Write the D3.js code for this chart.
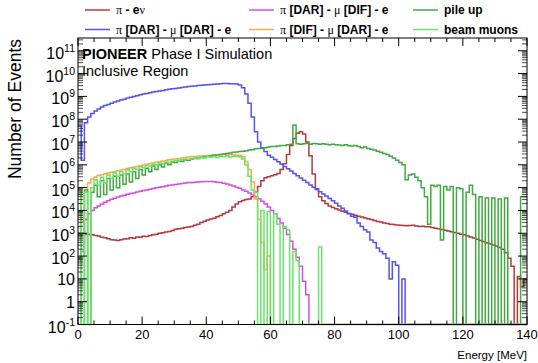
<!DOCTYPE html>
<html>
<head>
<meta charset="utf-8">
<script src="https://cdn.jsdelivr.net/npm/d3@7"></script>
<style>
  body { margin: 0; background: #fff; }
  svg { display: block; font-family: "Liberation Sans", Arial, Helvetica, sans-serif; }
</style>
</head>
<body>
<svg id="chart" width="538" height="363"></svg>
<script>
// 1 MeV bins from 0 to 140 MeV; values are log10(number of events), null = empty bin
const binEdges = d3.range(0, 141, 1);

const piEnuLog = [
  3.0, 3.0, 2.95, 2.95, 2.93, 2.9, 2.88, 2.83, 2.8, 2.76,
  2.72, 2.7, 2.68, 2.72, 2.75, 2.76, 2.8, 2.78, 2.84, 2.83,
  2.87, 2.86, 2.9, 2.93, 2.96, 3.0, 3.02, 3.05, 3.08, 3.12,
  3.18, 3.2, 3.22, 3.25, 3.27, 3.3, 3.35, 3.4, 3.47, 3.53,
  3.58, 3.62, 3.66, 3.72, 3.78, 3.85, 3.92, 4.0, 4.15, 4.28,
  4.38, 4.44, 4.48, 4.5, 4.6, 4.8, 5.05, 5.3, 5.43, 5.48,
  5.52, 5.56, 5.62, 5.8, 6.05, 6.45, 6.85, 7.15, 7.38, 7.45,
  7.35, 7.0, 6.4, 5.6, 4.95, 4.6, 4.42, 4.3, 4.2, 4.13,
  4.07, 4.02, 3.96, 3.92, 3.87, 3.83, 3.79, 3.75, 3.71, 3.67,
  3.64, 3.6, 3.56, 3.52, 3.49, 3.45, 3.43, 3.4, 3.38, 3.36,
  3.35, 3.34, 3.33, 3.34, 3.35, 3.32, 3.3, 3.31, 3.28, 3.28,
  3.25, 3.22, 3.2, 3.17, 3.13, 3.1, 3.07, 3.03, 3.0, 2.96,
  2.93, 2.88, 2.84, 2.79, 2.74, 2.68, 2.64, 2.58, 2.54, 2.48,
  2.44, 2.38, 2.3, 2.15, 1.9, 1.55, null, 1.1, 0.65, 1.0
];

const darDarLog = [
  7.7, 6.2, 7.85, 8.1, 8.25, 8.36, 8.45, 8.53, 8.6, 8.65,
  8.7, 8.75, 8.8, 8.84, 8.88, 8.93, 8.96, 9.0, 9.03, 9.07,
  9.1, 9.13, 9.16, 9.19, 9.21, 9.24, 9.26, 9.29, 9.31, 9.33,
  9.35, 9.37, 9.39, 9.41, 9.43, 9.45, 9.46, 9.48, 9.49, 9.5,
  9.51, 9.52, 9.53, 9.54, 9.55, 9.56, 9.56, 9.55, 9.55, 9.54,
  9.5, 9.38, 9.1, 8.7, 8.1, 7.45, 7.0, 6.75, 6.58, 6.42,
  6.33, 6.23, 6.13, 6.03, 5.93, 5.83, 5.73, 5.62, 5.52, 5.42,
  5.32, 5.22, 5.12, 5.02, 4.92, 4.82, 4.72, 4.62, 4.52, 4.42,
  4.32, 4.2, 4.1, 3.98, 3.86, 3.75, 3.7, 3.45, 3.3, 3.15,
  3.05, 2.7, 2.6, 2.35, 2.2, 2.1, 1.9, 1.0, 1.75, 1.6,
  null, 1.0, null, null, null, null, null, null, null, null,
  null, null, null, null, null, null, null, null, null, null,
  null, null, null, null, null, null, null, null, null, null,
  null, null, null, null, null, null, null, null, null, null
];

const darDifLog = [
  1.9, 2.2, 3.6, 3.85, 4.0, 4.12, 4.2, 4.28, 4.36, 4.43,
  4.49, 4.54, 4.59, 4.63, 4.67, 4.71, 4.74, 4.77, 4.81, 4.84,
  4.87, 4.9, 4.93, 4.96, 4.99, 5.02, 5.04, 5.07, 5.1, 5.12,
  5.14, 5.16, 5.18, 5.2, 5.22, 5.23, 5.24, 5.25, 5.26, 5.27,
  5.27, 5.27, 5.26, 5.24, 5.22, 5.19, 5.16, 5.12, 5.07, 5.02,
  4.97, 4.9, 4.84, 4.77, 4.69, 4.6, 4.5, 4.4, 4.28, 4.15,
  4.0, 3.85, 3.65, 3.45, 3.22, 2.95, 2.65, 2.3, 1.95, 1.55,
  0.9, 0.3, null, null, null, null, null, null, null, null,
  null, null, null, null, null, null, null, null, null, null,
  null, null, null, null, null, null, null, null, null, null,
  null, null, null, null, null, null, null, null, null, null,
  null, null, null, null, null, null, null, null, null, null,
  null, null, null, null, null, null, null, null, null, null,
  null, null, null, null, null, null, null, null, null, null
];

const difDarLog = [
  4.9, 3.5, 4.8, 5.2, 5.38, 5.47, 5.53, 5.57, 5.61, 5.64,
  5.67, 5.7, 5.74, 5.77, 5.8, 5.84, 5.87, 5.9, 5.93, 5.96,
  5.99, 6.02, 6.05, 6.08, 6.11, 6.14, 6.17, 6.19, 6.22, 6.24,
  6.26, 6.28, 6.3, 6.32, 6.34, 6.36, 6.37, 6.38, 6.39, 6.4,
  6.41, 6.42, 6.43, 6.44, 6.44, 6.45, 6.45, 6.45, 6.44, 6.43,
  6.42, 6.35, 6.15, 5.8, 5.25, 4.5, 3.6, 2.6, 1.4, 2.0,
  null, null, null, null, null, null, null, null, null, null,
  null, null, null, null, null, null, null, null, null, null,
  null, null, null, null, null, null, null, null, null, null,
  null, null, null, null, null, null, null, null, null, null,
  null, null, null, null, null, null, null, null, null, null,
  null, null, null, null, null, null, null, null, null, null,
  null, null, null, null, null, null, null, null, null, null,
  null, null, null, null, null, null, null, null, null, null
];

const pileUpLog = [
  4.7, null, 4.9, null, 4.8, 5.1, 4.6, 5.3, 4.7, 5.4,
  4.9, 5.5, 5.0, 5.55, 5.15, 5.6, 5.25, 5.7, 5.4, 5.8,
  5.55, 5.85, 5.7, 5.95, 5.8, 6.0, 5.9, 6.08, 6.0, 6.12,
  6.1, 6.18, 6.15, 6.22, 6.2, 6.26, 6.28, 6.3, 6.32, 6.35,
  6.37, 6.4, 6.42, 6.43, 6.45, 6.47, 6.5, 6.52, 6.55, 6.56,
  6.58, 6.6, 6.62, 6.65, 6.66, 6.7, 6.72, 6.72, 6.75, 6.78,
  6.8, 6.8, 6.82, 6.85, 6.85, 6.88, 6.9, 7.75, 6.92, 6.9,
  6.92, 6.95, 6.9, 6.93, 6.92, 6.9, 6.92, 6.9, 6.88, 6.9,
  6.88, 6.87, 6.85, 6.88, 6.84, 6.82, 6.85, 6.8, 6.75, 6.78,
  6.72, 6.68, 6.65, 6.6, 6.55, 6.5, 6.45, 6.38, 6.3, 6.2,
  6.1, 6.0, 5.35, 5.55, 5.6, 5.45, 5.3, 5.0, 4.6, 3.4,
  5.1, 5.05, 5.1, 2.7, 5.05, 4.9, 5.05, null, 5.0, 4.95,
  null, 4.8, 5.1, 4.7, null, 4.6, null, 4.55, null, 4.55,
  null, 4.5, null, 4.55, null, null, null, null, 4.6, 4.6
];

const beamMuonsLog = [
  4.9, null, 4.8, null, 5.0, 5.35, 5.1, 5.45, 5.2, 5.55,
  5.4, 5.65, 5.5, 5.7, 5.6, 5.78, 5.7, 5.85, 5.8, 5.92,
  5.88, 5.97, 5.95, 6.02, 6.0, 6.08, 6.05, 6.12, 6.1, 6.16,
  6.18, 6.2, 6.22, 6.25, 6.24, 6.28, 6.3, 6.27, 6.33, 6.3,
  6.35, 6.33, 6.37, 6.32, 6.38, 6.35, 6.4, 6.34, 6.38, 6.36,
  6.35, 6.25, 6.0, 5.5, 4.9, 4.8, null, 4.0, null, 3.95,
  null, 3.85, 3.4, null, 3.3, 3.15, null, 2.2, 1.8, null,
  null, null, null, null, null, 2.4, null, null, null, null,
  null, null, null, null, null, null, null, null, null, null,
  null, null, null, null, null, null, null, null, null, null,
  null, null, null, null, null, null, null, null, null, null,
  null, null, null, null, null, null, null, null, null, null,
  null, null, null, null, null, null, null, null, null, null,
  null, null, null, null, null, null, null, null, null, null
];

const xTicks = [0, 20, 40, 60, 80, 100, 120, 140];
const yDecades = d3.range(-1, 12);

const series = [
  { name: "pienu",  log: piEnuLog,     color: "#b23b3b" },
  { name: "darDar", log: darDarLog,    color: "#5252f5" },
  { name: "darDif", log: darDifLog,    color: "#d84ae8" },
  { name: "difDar", log: difDarLog,    color: "#fbaa45" },
  { name: "pileUp", log: pileUpLog,    color: "#42a842" },
  { name: "beamMu", log: beamMuonsLog, color: "#68e468" }
];

const plotL = 78, plotR = 527, plotT = 38, plotB = 324.5;
const yMin = 0.1, yMax = Math.pow(10, 11.56);

const svg = d3.select("#chart");
const x = d3.scaleLinear().domain([0, 140]).range([plotL, plotR]);
const y = d3.scaleLog().domain([yMin, yMax]).range([plotB, plotT]);

svg.append("defs").append("clipPath").attr("id", "frame")
  .append("rect").attr("x", plotL).attr("y", plotT - 1).attr("width", plotR - plotL).attr("height", plotB - plotT + 2);

// histograms as step lines, empty bins drop to the frame bottom
const line = d3.line()
  .x(d => x(d[0]))
  .y(d => y(Math.max(yMin, d[1])))
  .curve(d3.curveStepAfter);

const hg = svg.append("g").attr("clip-path", "url(#frame)");
series.forEach(s => {
  const vals = s.log.map(l => l == null ? 0 : Math.pow(10, l));
  const pts = vals.map((v, i) => [binEdges[i], v]);
  pts.push([binEdges[binEdges.length - 1], vals[vals.length - 1]]);
  hg.append("path")
    .attr("d", line(pts))
    .attr("fill", "none")
    .attr("stroke", s.color)
    .attr("stroke-width", 1.5);
});

// frame
svg.append("rect")
  .attr("x", plotL).attr("y", plotT)
  .attr("width", plotR - plotL).attr("height", plotB - plotT)
  .attr("fill", "none").attr("stroke", "#000").attr("stroke-width", 1);

// x ticks (bottom and top, inward)
const xMinor = d3.range(0, 141, 5);
const tk = svg.append("g").attr("stroke", "#000").attr("stroke-width", 1);
xMinor.forEach(v => {
  const len = v % 20 === 0 ? 8 : 4;
  tk.append("line").attr("x1", x(v)).attr("x2", x(v)).attr("y1", plotB).attr("y2", plotB - len);
  tk.append("line").attr("x1", x(v)).attr("x2", x(v)).attr("y1", plotT).attr("y2", plotT + len);
});

// y ticks (left and right, inward)
yDecades.forEach(e => {
  for (let k = 1; k <= 9; k++) {
    const v = k * Math.pow(10, e);
    if (v > yMax) continue;
    const len = k === 1 ? 9 : 5;
    const yy = y(v);
    tk.append("line").attr("x1", plotL).attr("x2", plotL + len).attr("y1", yy).attr("y2", yy).attr("stroke-opacity", k === 1 ? 1 : 0.7);
    tk.append("line").attr("x1", plotR).attr("x2", plotR - len).attr("y1", yy).attr("y2", yy).attr("stroke-opacity", k === 1 ? 1 : 0.7);
  }
});

// x labels
svg.append("g").selectAll("text").data(xTicks).join("text")
  .attr("x", d => x(d)).attr("y", 339)
  .attr("text-anchor", "middle").attr("font-size", 13)
  .text(d => d);

// y labels with superscripts
const yl = svg.append("g").attr("text-anchor", "end");
yDecades.forEach(e => {
  const t = yl.append("text").attr("x", 75).attr("font-size", 16);
  if (e === 0 || e === 1) {
    t.attr("y", y(Math.pow(10, e)) + 6).text(e === 0 ? "1" : "10");
  } else {
    t.attr("y", y(Math.pow(10, e)) + 8);
    t.append("tspan").text("10");
    t.append("tspan").attr("font-size", 10.5).attr("dy", -7).text(e);
  }
});

// axis titles
svg.append("text")
  .attr("transform", "translate(21,39) rotate(-90)")
  .attr("text-anchor", "end").attr("font-size", 17.5)
  .text("Number of Events");
svg.append("text")
  .attr("x", 527).attr("y", 359)
  .attr("text-anchor", "end").attr("font-size", 11.5)
  .text("Energy [MeV]");

// header text
const h1 = svg.append("text").attr("x", 82).attr("y", 59).attr("font-size", 14.5);
h1.append("tspan").attr("font-weight", "bold").text("PIONEER");
h1.append("tspan").text(" Phase I Simulation");
svg.append("text").attr("x", 82).attr("y", 76).attr("font-size", 14.5).text("Inclusive Region");

// legend
const legendItems = [
  { s: 0, parts: [["π", 1], [" - e", 0], ["ν", 1]], col: 0, row: 0 },
  { s: 1, parts: [["π", 1], [" [DAR] - ", 0], ["μ", 1], [" [DAR] - e", 0]], col: 0, row: 1 },
  { s: 2, parts: [["π", 1], [" [DAR] - ", 0], ["μ", 1], [" [DIF] - e", 0]], col: 1, row: 0 },
  { s: 3, parts: [["π", 1], [" [DIF] - ", 0], ["μ", 1], [" [DAR] - e", 0]], col: 1, row: 1 },
  { s: 4, parts: [["pile up", 0]], col: 2, row: 0 },
  { s: 5, parts: [["beam muons", 0]], col: 2, row: 1 }
];
const colX = [85, 249, 413];
const rowY = [10, 29.5];
const lg = svg.append("g");
legendItems.forEach(it => {
  const lx = colX[it.col], ly = rowY[it.row];
  lg.append("line").attr("x1", lx).attr("x2", lx + 25).attr("y1", ly).attr("y2", ly)
    .attr("stroke", series[it.s].color).attr("stroke-width", 1.5);
  const t = lg.append("text").attr("x", lx + 31).attr("y", ly + 4).attr("font-size", 12);
  it.parts.forEach(p => {
    const sp = t.append("tspan").text(p[0]);
    if (p[1]) sp.attr("font-family", "'Liberation Serif', 'Times New Roman', serif");
    else sp.attr("font-weight", "bold");
  });
});
</script>
</body>
</html>
